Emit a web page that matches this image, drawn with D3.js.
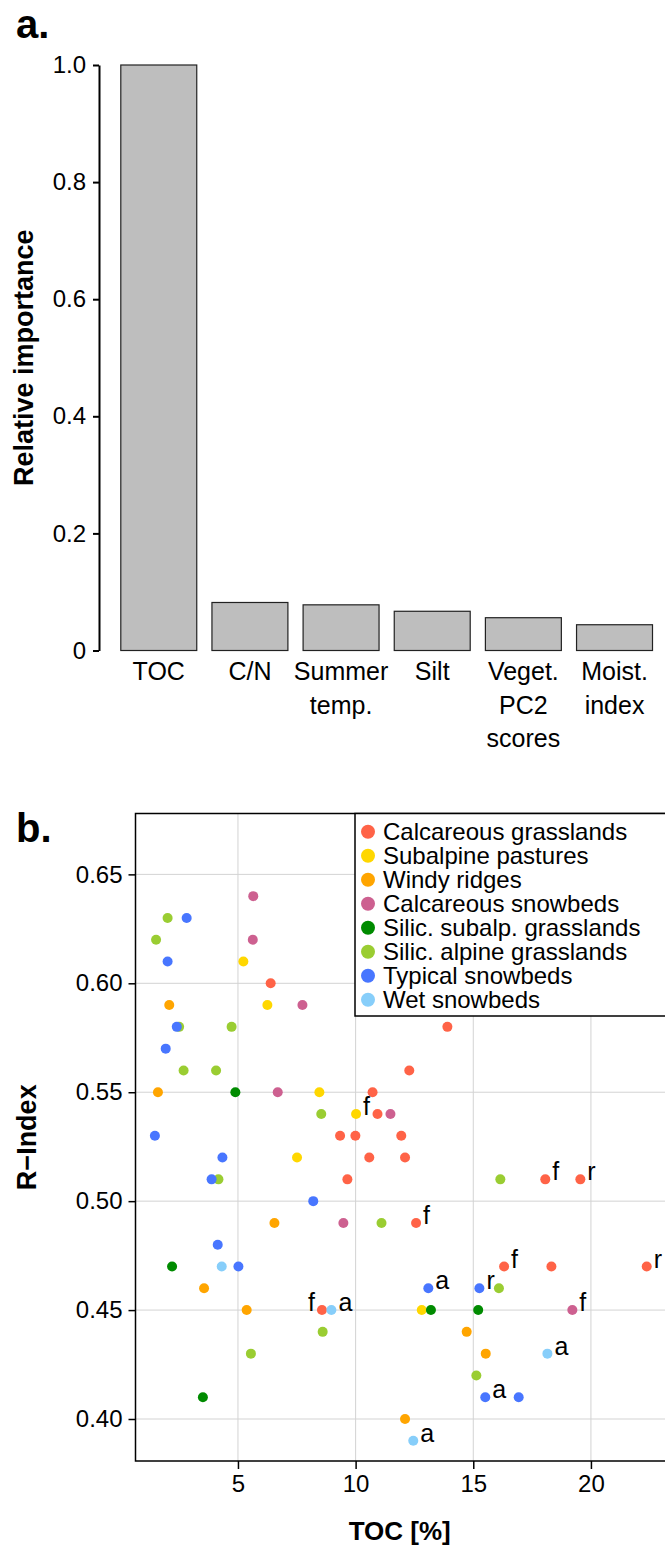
<!DOCTYPE html>
<html>
  <head>
    <meta http-equiv="Content-Type" content="text/html;charset=utf-8">
    <title>Relative importance and R-Index</title>
    <script src="https://cdn.jsdelivr.net/npm/d3@7"></script>
    <style type="text/css">
body {
    margin: 0;
    background: #fff;
}
svg text {
    font-family: "Liberation Sans", Arial, sans-serif;
    fill: #000;
}
.grid line {
    stroke: #d3d3d3;
    stroke-width: 1px;
}
.axis path, .axis line {
    stroke: #000;
    stroke-width: 1.5px;
}
    </style>
  </head>
  <body>
    <script type="text/javascript">
// panel a: relative importance
var barLabels = ["TOC", "C/N", "Summer\ntemp.", "Silt", "Veget.\nPC2\nscores", "Moist.\nindex"],
    barValues = [1.0, 0.082, 0.078, 0.067, 0.056, 0.044],
    barTicks = [0, 0.2, 0.4, 0.6, 0.8, 1.0],
    barTickLabels = ["0", "0.2", "0.4", "0.6", "0.8", "1.0"];

// panel b: R-Index vs TOC, [TOC, R-Index, note]
var groupNames = ["Calcareous grasslands", "Subalpine pastures", "Windy ridges", "Calcareous snowbeds",
                  "Silic. subalp. grasslands", "Silic. alpine grasslands", "Typical snowbeds", "Wet snowbeds"],
    groupColors = ["#FF6347", "#FFD700", "#FFA500", "#CD6090", "#008B00", "#9ACD32", "#4876FF", "#87CEFA"];

var calcGrasslands = [[6.39,0.60],[13.9,0.58],[12.28,0.56],[10.72,0.55],[10.93,0.54],[9.34,0.53],[9.99,0.53],
        [11.94,0.53],[10.58,0.52],[12.1,0.52],[9.65,0.51],[18.06,0.51,"f"],[19.55,0.51,"r"],[12.57,0.49,"f"],
        [16.31,0.47,"f"],[18.32,0.47],[22.37,0.47,"r"],[8.57,0.45,"f","left"]],
    subalpPastures = [[5.23,0.61],[6.25,0.59],[8.46,0.55],[10.02,0.54,"f"],[7.51,0.52],[12.81,0.45]],
    windyRidges = [[2.08,0.59],[1.60,0.55],[6.55,0.49],[3.56,0.46],[5.37,0.45],[14.72,0.44],[15.53,0.43],[12.10,0.40]],
    calcSnowbeds = [[5.65,0.64],[5.63,0.62],[7.74,0.59],[6.69,0.55],[11.48,0.54],[9.48,0.49],[19.21,0.45,"f"]],
    silSubalpGrass = [[4.89,0.55],[2.20,0.47],[13.2,0.45],[15.21,0.45],[3.51,0.41]],
    silAlpineGrass = [[2.01,0.63],[1.52,0.62],[2.5,0.58],[4.73,0.58],[2.69,0.56],[4.07,0.56],[8.54,0.54],
        [4.17,0.51],[16.15,0.51],[11.10,0.49],[16.09,0.46],[8.60,0.44],[5.55,0.43],[15.13,0.42]],
    typSnowbeds = [[2.82,0.63],[2.01,0.61],[2.40,0.58],[1.93,0.57],[1.47,0.53],[4.34,0.52],[3.88,0.51],
        [8.20,0.50],[4.14,0.48],[5.02,0.47],[13.09,0.46,"a"],[15.26,0.46,"r"],[15.51,0.41,"a"],[16.93,0.41]],
    wetSnowbeds = [[4.31,0.47],[8.97,0.45,"a"],[18.15,0.43,"a"],[12.45,0.39,"a"]];

var groupPoints = [calcGrasslands, subalpPastures, windyRidges, calcSnowbeds,
                   silSubalpGrass, silAlpineGrass, typSnowbeds, wetSnowbeds];

var xTicksB = [5, 10, 15, 20],
    yTicksB = [0.40, 0.45, 0.50, 0.55, 0.60, 0.65];

var W = 665, H = 1547;

var svg = d3.select('body').append('svg')
    .attr('width', W)
    .attr('height', H);

// ---------- panel a ----------
svg.append('text')
    .attr('x', 16).attr('y', 38)
    .style('font-size', '40px').style('font-weight', 'bold')
    .text('a.');

var xA = d3.scaleBand()
    .domain(barLabels)
    .range([113.2, 660.1])
    .paddingInner(1/6)
    .paddingOuter(1/12);

var yA = d3.scaleLinear().domain([0, 1]).range([650.5, 65]);

svg.selectAll('rect.bar')
    .data(barValues)
  .enter().append('rect')
    .attr('class', 'bar')
    .attr('x', function(d, i) { return xA(barLabels[i]) })
    .attr('y', function(d) { return yA(d) })
    .attr('width', xA.bandwidth())
    .attr('height', function(d) { return yA(0) - yA(d) })
    .attr('fill', '#bebebe')
    .attr('stroke', '#222')
    .attr('stroke-width', 1.2);

var axA = svg.append('g')
    .attr('class', 'axis')
    .attr('transform', 'translate(99,0)')
    .call(d3.axisLeft(yA)
        .tickValues(barTicks)
        .tickFormat(function(d, i) { return barTickLabels[i] })
        .tickSize(6).tickSizeOuter(0).tickPadding(7));
axA.selectAll('path, line').style('stroke-width', '2px');
axA.selectAll('text').style('font-size', '24px');

// category labels, split into lines
svg.selectAll('text.cat')
    .data(barLabels)
  .enter().append('text')
    .attr('class', 'cat')
    .attr('text-anchor', 'middle')
    .style('font-size', '25px')
    .each(function(d) {
        var t = d3.select(this),
            cx = xA(d) + xA.bandwidth() / 2;
        d.split('\n').forEach(function(line, k) {
            t.append('tspan')
                .attr('x', cx)
                .attr('y', 680 + k * 33.5)
                .text(line);
        });
    });

svg.append('text')
    .attr('transform', 'translate(33,' + ((yA(0) + yA(1)) / 2) + ') rotate(-90)')
    .attr('text-anchor', 'middle')
    .style('font-size', '27px').style('font-weight', 'bold')
    .text('Relative importance');

// ---------- panel b ----------
svg.append('text')
    .attr('x', 16).attr('y', 842)
    .style('font-size', '40px').style('font-weight', 'bold')
    .text('b.');

var pLeft = 135.5, pRight = 666, pTop = 813.5, pBottom = 1461;

var xB = d3.scaleLinear().domain([0, 23.19]).range([120.3, pRight]);
var yB = d3.scaleLinear().domain([0.40, 0.60]).range([1419, 983.3]);

var grid = svg.append('g').attr('class', 'grid');
grid.selectAll('line.gx')
    .data(xTicksB)
  .enter().append('line')
    .attr('class', 'gx')
    .attr('x1', function(d) { return xB(d) })
    .attr('x2', function(d) { return xB(d) })
    .attr('y1', pTop).attr('y2', pBottom);
grid.selectAll('line.gy')
    .data(yTicksB)
  .enter().append('line')
    .attr('class', 'gy')
    .attr('x1', pLeft).attr('x2', pRight)
    .attr('y1', function(d) { return yB(d) })
    .attr('y2', function(d) { return yB(d) });

var axXB = svg.append('g')
    .attr('class', 'axis')
    .attr('transform', 'translate(0,' + pBottom + ')')
    .call(d3.axisBottom(xB).tickValues(xTicksB).tickSize(8).tickPadding(6));
axXB.select('.domain').remove();
axXB.selectAll('text').style('font-size', '24px');

var axYB = svg.append('g')
    .attr('class', 'axis')
    .attr('transform', 'translate(' + pLeft + ',0)')
    .call(d3.axisLeft(yB).tickValues(yTicksB).tickFormat(d3.format('.2f')).tickSize(7).tickPadding(6));
axYB.select('.domain').remove();
axYB.selectAll('text').style('font-size', '24px');

// points
groupPoints.forEach(function(pts, gi) {
    svg.append('g').selectAll('circle')
        .data(pts)
      .enter().append('circle')
        .attr('cx', function(d) { return xB(d[0]) })
        .attr('cy', function(d) { return yB(d[1]) })
        .attr('r', 5)
        .attr('fill', groupColors[gi]);
});

// notes next to points
var noted = [];
groupPoints.forEach(function(pts) {
    pts.forEach(function(p) { if (p[2]) noted.push(p) });
});
svg.selectAll('text.note')
    .data(noted)
  .enter().append('text')
    .attr('class', 'note')
    .attr('x', function(d) { return xB(d[0]) + (d[3] === 'left' ? -7 : 7) })
    .attr('y', function(d) { return yB(d[1]) + 1 })
    .attr('text-anchor', function(d) { return d[3] === 'left' ? 'end' : 'start' })
    .style('font-size', '25px')
    .text(function(d) { return d[2] });

// plot frame
svg.append('rect')
    .attr('x', pLeft).attr('y', pTop)
    .attr('width', pRight - pLeft).attr('height', pBottom - pTop)
    .attr('fill', 'none')
    .attr('stroke', '#000')
    .attr('stroke-width', 1.5);

// legend
var lg = svg.append('g');
lg.append('rect')
    .attr('x', 355).attr('y', pTop)
    .attr('width', pRight - 355).attr('height', 1016 - pTop)
    .attr('fill', '#fff')
    .attr('stroke', '#000')
    .attr('stroke-width', 1.5);
var items = lg.selectAll('g.item')
    .data(groupNames)
  .enter().append('g')
    .attr('class', 'item')
    .attr('transform', function(d, i) { return 'translate(368,' + (831.7 + i * 24) + ')' });
items.append('circle')
    .attr('r', 7)
    .attr('fill', function(d, i) { return groupColors[i] });
items.append('text')
    .attr('x', 15)
    .attr('dy', '0.33em')
    .style('font-size', '24px')
    .text(function(d) { return d });

svg.append('text')
    .attr('x', (pLeft + 664) / 2).attr('y', 1540)
    .attr('text-anchor', 'middle')
    .style('font-size', '26px').style('font-weight', 'bold')
    .text('TOC [%]');

svg.append('text')
    .attr('transform', 'translate(36,' + ((pTop + pBottom) / 2) + ') rotate(-90)')
    .attr('text-anchor', 'middle')
    .style('font-size', '27px').style('font-weight', 'bold')
    .text('R\u2212Index');
    </script>
  </body>
</html>
